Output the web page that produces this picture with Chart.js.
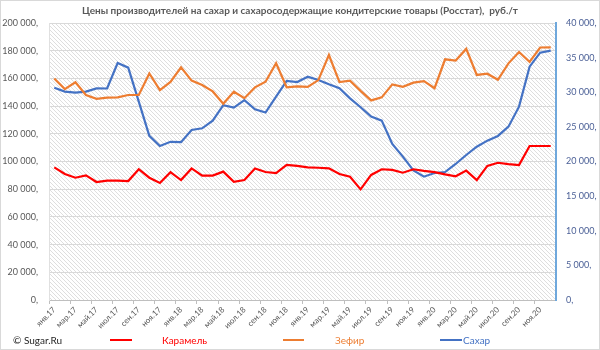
<!DOCTYPE html>
<html><head><meta charset="utf-8">
<script src="https://cdn.jsdelivr.net/npm/chart.js@4"></script>
<style>
html,body{margin:0;padding:0;background:#fff;}
#wrap{position:relative;width:600px;height:350px;overflow:hidden;font-family:Lato,"Open Sans",sans-serif;}
#frame{position:absolute;left:0;top:0;width:598px;height:348px;border:1px solid #d9d9d9;}
canvas{position:absolute;left:0;top:0;}
#title{position:absolute;left:0;top:4px;width:600px;text-align:center;font-weight:bold;font-size:10px;color:#595959;white-space:pre;}
.lg{position:absolute;top:333px;font-size:10px;line-height:14px;white-space:nowrap;}
.ln{position:absolute;top:339px;height:2px;}
</style></head>
<body><div id="wrap">
<div id="frame"></div>
<canvas id="c" width="600" height="350"></canvas>
<div id="title">Цены производителей на сахар и сахаросодержащие кондитерские товары (Росстат),  руб./т</div>
<div class="lg" style="left:13px;color:#262626;">© Sugar.Ru</div>
<div class="ln" style="left:110px;width:22px;background:#ff0000;"></div>
<div class="lg" style="left:162px;color:#ff0000;">Карамель</div>
<div class="ln" style="left:283px;width:21px;background:#ed7d31;"></div>
<div class="lg" style="left:335px;color:#ed7d31;">Зефир</div>
<div class="ln" style="left:440px;width:22px;background:#4472c4;"></div>
<div class="lg" style="left:463px;color:#4472c4;">Сахар</div>
</div>
<script>
const months = ['янв','фев','мар','апр','май','июн','июл','авг','сен','окт','ноя','дек'];
const years = ['17','18','19','20'];
const categories = [];
years.forEach(y => months.forEach(m => categories.push(m + '.' + y)));

const karamel = [95800,91000,88300,90000,85200,86200,86200,85900,94400,88300,84500,92300,
                 86600,95000,89800,89800,92700,85400,86600,95000,92400,91600,97600,96800,
                 95700,95500,95100,91000,89000,79900,90300,94400,93900,91900,94400,93200,
                 92300,90700,89300,93400,86600,96800,99100,98100,97400,111200,111200,111200];
const zefir = [160000,152300,157200,148000,145300,146100,146300,148000,148000,163600,151600,157500,
               168000,158400,155200,150600,141700,150400,145700,153500,157600,170900,153600,154300,
               153900,158800,176900,157300,158400,151000,144100,146300,155700,153900,156900,158000,
               152900,173800,172900,181300,162500,163400,159000,170900,179100,172000,182300,182400];
const sakhar = [30660,30100,29940,30100,30560,30540,34220,33550,28640,23700,22240,22840,
                22790,24550,24790,25900,28130,27780,28860,27540,27070,29370,31650,31480,
                32250,31770,31150,30570,29120,27830,26480,25900,22530,20700,18700,17810,
                18340,18480,19640,20940,22140,23010,23690,25030,27920,33700,35720,36010];

function fmt(v){ return String(v).replace(/\B(?=(\d{3})+(?!\d))/g,' ') + ','; }

const pc = document.createElement('canvas');
pc.width = 4; pc.height = 4;
const px = pc.getContext('2d');
px.fillStyle = '#ffffff'; px.fillRect(0,0,4,4);
px.strokeStyle = '#dedede'; px.lineWidth = 1;
px.beginPath(); px.moveTo(0,0); px.lineTo(4,4); px.stroke();
px.beginPath(); px.moveTo(-2,2); px.lineTo(2,6); px.stroke();
px.beginPath(); px.moveTo(2,-2); px.lineTo(6,2); px.stroke();

const bgPlugin = {
  id:'bg',
  beforeDraw(chart){
    const {ctx, chartArea:a} = chart;
    ctx.save();
    ctx.fillStyle = ctx.createPattern(pc,'repeat');
    ctx.fillRect(a.left, a.top, a.right-a.left, a.bottom-a.top);
    ctx.restore();
  }
};

const font = {family:'Lato, "Open Sans", sans-serif', size:9};

new Chart(document.getElementById('c'), {
  type:'line',
  data:{
    labels: categories,
    datasets:[
      {label:'Карамель', data:karamel, borderColor:'#ff0000', yAxisID:'y', borderWidth:2.2, pointRadius:0, tension:0},
      {label:'Зефир', data:zefir, borderColor:'#ed7d31', yAxisID:'y', borderWidth:2.2, pointRadius:0, tension:0},
      {label:'Сахар', data:sakhar, borderColor:'#4472c4', yAxisID:'y1', borderWidth:2.2, pointRadius:0, tension:0}
    ]
  },
  options:{
    responsive:false, animation:false,
    layout:{padding:{top:23, bottom:20, left:0, right:0}},
    plugins:{legend:{display:false}, title:{display:false}, tooltip:{enabled:false}},
    scales:{
      x:{
        offset:true,
        grid:{offset:true, drawOnChartArea:false, tickLength:4,
              color:(c)=> (c.index % 2 === 0) ? '#bfbfbf' : 'rgba(0,0,0,0)'},
        border:{color:'#bfbfbf'},
        ticks:{autoSkip:false, minRotation:45, maxRotation:45, font:{family:font.family,size:8}, color:'#595959', padding:1,
               callback:(v,i)=> i % 2 === 0 ? categories[i] : ''},
        afterFit:(s)=>{ s.height = 30; }
      },
      y:{
        position:'left', min:0, max:200000,
        ticks:{stepSize:20000, font:font, color:'#595959', padding:11, callback:(v)=>fmt(v)},
        grid:{color:'#d9d9d9', drawTicks:false},
        border:{color:'#e0e0e0'},
        afterFit:(s)=>{ s.width = 49; }
      },
      y1:{
        position:'right', min:0, max:40000,
        ticks:{stepSize:5000, font:font, color:'#4a5f96', padding:10, callback:(v)=>fmt(v)},
        grid:{drawOnChartArea:false, drawTicks:false},
        border:{color:'#6fa8dc', width:2},
        afterFit:(s)=>{ s.width = 44; }
      }
    }
  },
  plugins:[bgPlugin]
});
</script>
</body></html>
